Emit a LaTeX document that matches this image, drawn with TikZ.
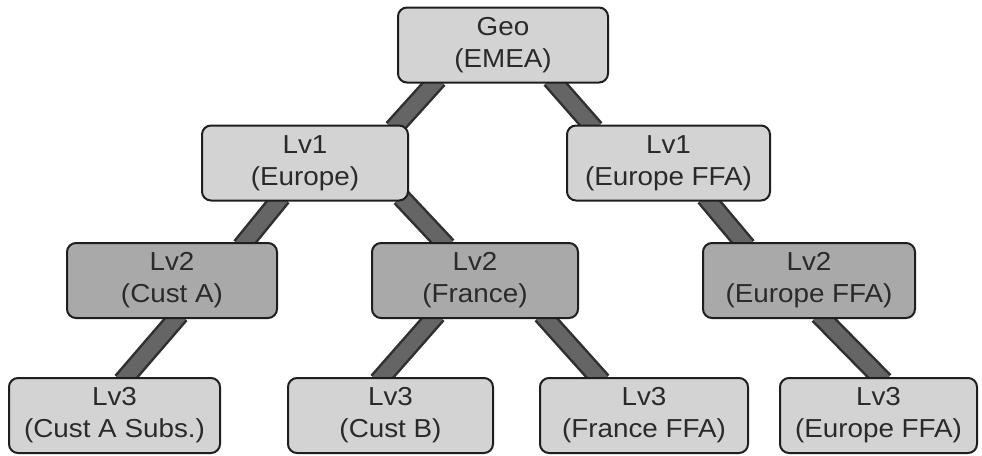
\documentclass[tikz,border=0pt]{standalone}
\usepackage{fontspec}
\setmainfont[FakeStretch=1.07]{Liberation Sans}
\usetikzlibrary{calc,backgrounds}
\definecolor{lightbox}{HTML}{D3D3D3}
\definecolor{darkbox}{HTML}{A9A9A9}
\definecolor{boxline}{HTML}{1E1E1E}
\definecolor{txt}{HTML}{2A2A2A}
\definecolor{connout}{HTML}{303030}
\definecolor{connin}{HTML}{656565}
\tikzset{
  box/.style={draw=boxline, line width=2pt, rounded corners=9pt, align=center,
    inner sep=0pt, minimum height=75pt, text=txt,
    font=\fontsize{26}{32}\selectfont},
  lbox/.style={box, fill=lightbox},
  dbox/.style={box, fill=darkbox},
  connA/.style={line width=20pt, color=connout, shorten <=-6pt, shorten >=-6pt},
  connB/.style={line width=15pt, color=connin, shorten <=-6pt, shorten >=-6pt},
}
\begin{document}
\begin{tikzpicture}[x=1pt,y=-1pt]
\useasboundingbox (0,0) rectangle (982,455);
% level 0
\node[lbox, minimum width=210pt] (geo) at (503,45) {Geo\\(EMEA)};
% level 1
\node[lbox, minimum width=206pt] (eu) at (305,163) {Lv1\\(Europe)};
\node[lbox, minimum width=203pt] (effa1) at (668.5,163) {Lv1\\(Europe FFA)};
% level 2
\node[dbox, minimum width=210pt] (custa) at (172,280.5) {Lv2\\(Cust A)};
\node[dbox, minimum width=206pt] (france) at (475,280.5) {Lv2\\(France)};
\node[dbox, minimum width=212pt] (effa2) at (809,280.5) {Lv2\\(Europe FFA)};
% level 3
\node[lbox, minimum width=211pt] (subs) at (114.5,415.5) {Lv3\\(Cust A Subs.)};
\node[lbox, minimum width=205pt] (custb) at (390.5,415.5) {Lv3\\(Cust B)};
\node[lbox, minimum width=208pt] (ffa3) at (644,415.5) {Lv3\\(France FFA)};
\node[lbox, minimum width=197pt] (effa3) at (878.5,415.5) {Lv3\\(Europe FFA)};
% connectors
\begin{scope}[on background layer]
\foreach \s in {connA,connB}{
  \draw[\s] ($(geo.south)+(-69,0)$) -- ($(eu.north)+(92,0)$);
  \draw[\s] ($(geo.south)+(52,0)$) -- ($(effa1.north)+(-77.5,0)$);
  \draw[\s] ($(eu.south)+(-27,0)$) -- ($(custa.north)+(73,0)$);
  \draw[\s] ($(eu.south)+(100,0)$) -- ($(france.north)+(-32,0)$);
  \draw[\s] ($(effa1.south)+(40.5,0)$) -- ($(effa2.north)+(-66,0)$);
  \draw[\s] ($(custa.south)+(4,0)$) -- ($(subs.north)+(11.5,0)$);
  \draw[\s] ($(france.south)+(-42,0)$) -- ($(custb.north)+(-8.5,0)$);
  \draw[\s] ($(france.south)+(71,0)$) -- ($(ffa3.north)+(-46,0)$);
  \draw[\s] ($(effa2.south)+(14,0)$) -- ($(effa3.north)+(1.5,0)$);
}
\end{scope}
\end{tikzpicture}
\end{document}
